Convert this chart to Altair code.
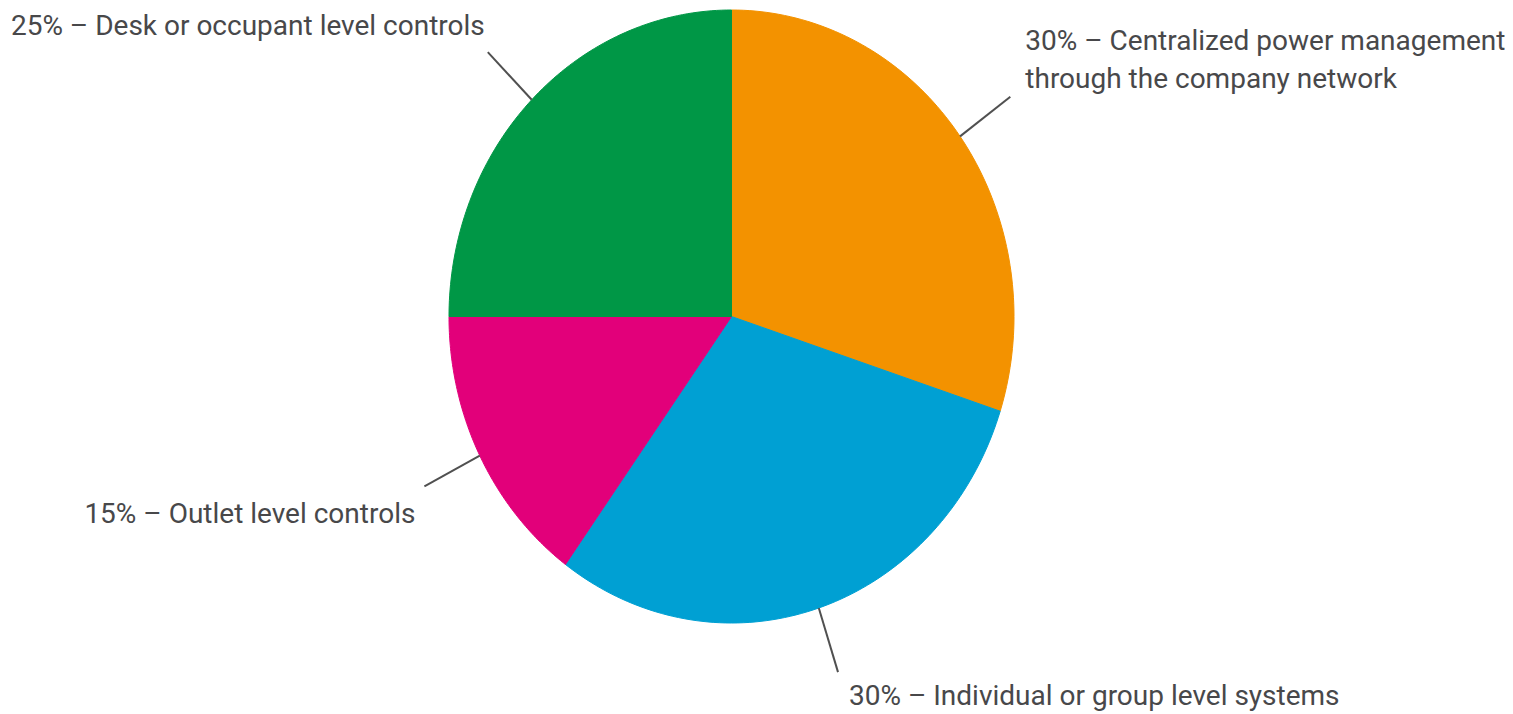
import altair as alt
import pandas as pd

# ---- data ----
names = [
    "Centralized power management through the company network",
    "Individual or group level systems",
    "Outlet level controls",
    "Desk or occupant level controls",
]
label_names = [
    "Centralized power management\nthrough the company network",
    "Individual or group level systems",
    "Outlet level controls",
    "Desk or occupant level controls",
]
values = [30, 30, 15, 25]
colors = ["#F39200", "#00A0D3", "#E2007A", "#009746"]

df = pd.DataFrame({
    "idx": list(range(len(names))),
    "name": names,
    "value": values,
    "label": [f"{v}% \u2013 {n}" for v, n in zip(values, label_names)],
})

# ---- layout (pixels) ----
W, H = 1497, 706
CX, CY = 723.5, 308.5     # pie centre inside the plot area
RX, RY = 282.5, 306.5     # horizontal / vertical radius
R_OUT = 1.22              # leader line outer end (relative radius)
N = 90                    # arc resolution

xs = alt.Scale(domain=[-CX / RX, (W - CX) / RX], nice=False, zero=False)
ys = alt.Scale(domain=[-(H - CY) / RY, CY / RY], nice=False, zero=False)
cs = alt.Scale(domain=names, range=colors)

FONT = "Roboto"
FONT_SIZE = 28
TEXT_COLOR = "#48484a"

base = (
    alt.Chart(df)
    .transform_window(cum="sum(value)", sort=[alt.SortField("idx")], frame=[None, 0])
    .transform_joinaggregate(total="sum(value)")
    .transform_calculate(
        theta0="2*PI*(datum.cum - datum.value)/datum.total",
        theta1="2*PI*datum.cum/datum.total",
    )
    .transform_calculate(mid="(datum.theta0 + datum.theta1)/2")
)

# slice polygons: centre, arc points (steps 1..N+1), centre
pie = (
    base.transform_calculate(steps=f"sequence(0, {N + 3})")
    .transform_flatten(["steps"], as_=["step"])
    .transform_calculate(
        t=f"datum.theta0 + (datum.theta1 - datum.theta0) * clamp(datum.step - 1, 0, {N}) / {N}",
        edge=f"datum.step == 0 || datum.step == {N + 2}",
    )
    .transform_calculate(
        px="datum.edge ? 0 : sin(datum.t)",
        py="datum.edge ? 0 : cos(datum.t)",
    )
    .mark_line(strokeWidth=1, strokeJoin="round")
    .encode(
        x=alt.X("px:Q", scale=xs, axis=None),
        y=alt.Y("py:Q", scale=ys, axis=None),
        fill=alt.Fill("name:N", scale=cs, legend=None),
        stroke=alt.Stroke("name:N", scale=cs, legend=None),
        order=alt.Order("step:Q"),
    )
)

leaders = (
    base.transform_calculate(
        lx1="sin(datum.mid)",
        ly1="cos(datum.mid)",
        lx2=f"{R_OUT}*sin(datum.mid)",
        ly2=f"{R_OUT}*cos(datum.mid)",
    )
    .mark_rule(color="#505050", strokeWidth=2)
    .encode(
        x=alt.X("lx1:Q", scale=xs, axis=None),
        y=alt.Y("ly1:Q", scale=ys, axis=None),
        x2="lx2:Q",
        y2="ly2:Q",
    )
)

text_base = base.transform_calculate(
    tx=f"{R_OUT}*sin(datum.mid)",
    ty=f"{R_OUT}*cos(datum.mid)",
)

# per-label text placement (align, dx, dy)
placements = {
    names[0]: ("left", 15, -55),
    names[1]: ("left", 11, 25),
    names[2]: ("right", -9, 29),
    names[3]: ("right", -3, -25),
}

texts = []
for n in names:
    al, dx, dy = placements[n]
    texts.append(
        text_base.transform_filter(alt.datum.name == n)
        .mark_text(
            align=al, baseline="middle", dx=dx, dy=dy,
            font=FONT, fontSize=FONT_SIZE, color=TEXT_COLOR,
            lineBreak="\n", lineHeight=38,
        )
        .encode(
            x=alt.X("tx:Q", scale=xs, axis=None),
            y=alt.Y("ty:Q", scale=ys, axis=None),
            text="label:N",
        )
    )

chart = (
    alt.layer(pie, leaders, *texts)
    .properties(width=W, height=H, padding=0, autosize=alt.AutoSizeParams(type="none"))
    .configure_view(stroke=None)
)

chart.save("out.html", embed_options={"renderer": "svg", "actions": False})
